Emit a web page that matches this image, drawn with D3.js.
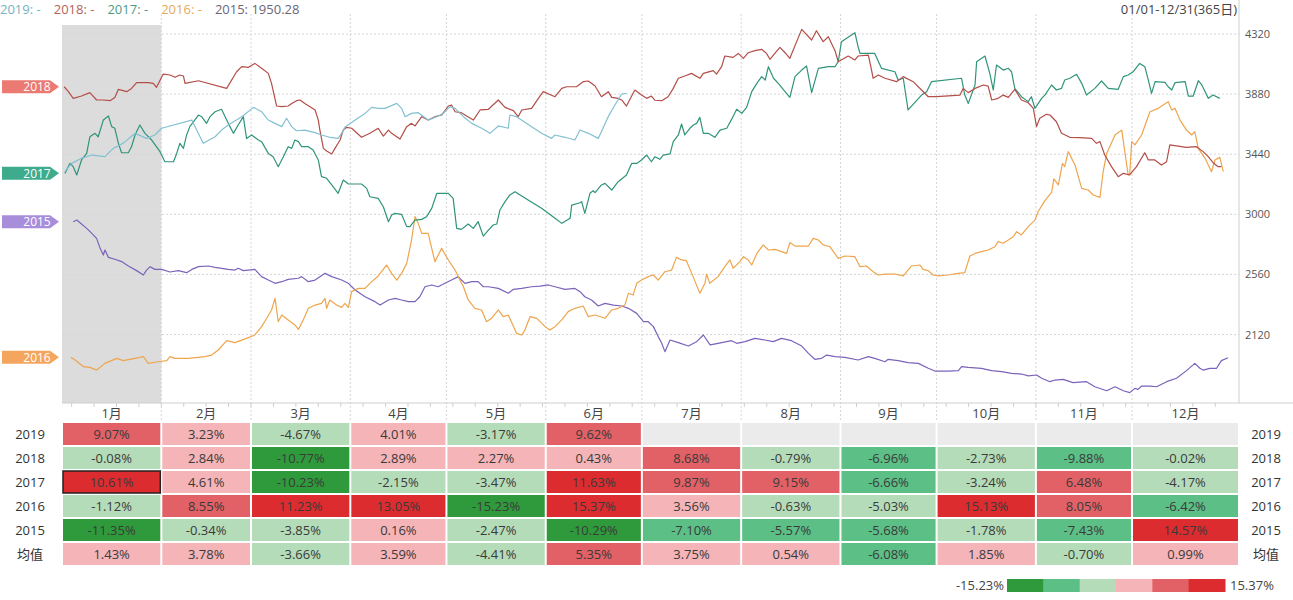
<!DOCTYPE html>
<html><head><meta charset="utf-8">
<script src="https://cdn.jsdelivr.net/npm/d3@7"></script>
<style>
body{margin:0;background:#fff;}
svg{display:block;font-family:"Open Sans","Noto Sans CJK SC",sans-serif;}
</style>
</head><body>
<svg id="chart" width="1293" height="600"></svg>
<script>
// ---------- DATA ----------
// series: [day of year, index value]
const s2019 = [[0.9,3312],[3,3373],[6.1,3410],[9.3,3434],[13.4,3422],[16,3483],[18.1,3508],[19.7,3532],[22.8,3593],[26.4,3556],[29,3581],[31.1,3630],[40.5,3690],[44.1,3520],[47.8,3568],[49.8,3617],[51.9,3654],[56.1,3715],[59.8,3783],[62.3,3751],[64.4,3690],[66.5,3666],[68.6,3642],[70.1,3703],[71.7,3642],[73.2,3612],[75.8,3617],[79,3598],[81,3581],[83.6,3564],[86.2,3556],[87.3,3593],[88.3,3637],[91.5,3690],[94.6,3739],[96.7,3783],[98.7,3776],[100.8,3776],[104.5,3812],[106,3776],[107.1,3715],[109.1,3739],[111.2,3744],[114.3,3690],[117,3715],[119,3739],[121.1,3788],[122.7,3776],[125.3,3715],[127.9,3666],[131,3630],[133.6,3593],[136.2,3647],[139.3,3630],[139.8,3727],[141.9,3715],[146.6,3642],[149.7,3593],[152.8,3556],[153.9,3581],[157,3564],[160.1,3544],[161.7,3617],[164.3,3593],[167.4,3556],[170.5,3715],[172.6,3800],[174.7,3881],[176.2,3886]];
const s2018 = [[0.7,3934],[2,3898],[3.5,3849],[6.1,3866],[8.7,3891],[10.8,3837],[12.9,3837],[15,3832],[16.5,3856],[17.6,3915],[20.2,3898],[21.7,3922],[23.3,3964],[26.9,3964],[28.5,3959],[29.5,3930],[31.6,4027],[33.7,4020],[35.3,4003],[36.8,4020],[37.9,4013],[38.4,3959],[42.6,3978],[51.4,3922],[54.5,4044],[56.1,4081],[58.2,4076],[60.2,4105],[62.3,4069],[64.4,4032],[65.4,3959],[67,3793],[68.6,3788],[70.6,3793],[71.7,3812],[73.2,3832],[74.3,3837],[75.8,3812],[77.4,3788],[79,3764],[80,3690],[80.5,3617],[81.6,3483],[82.6,3464],[84.2,3442],[85.2,3483],[86.8,3544],[87.8,3617],[88.8,3637],[90.4,3630],[93.5,3564],[96.1,3593],[98.7,3630],[100.3,3573],[101.9,3617],[102.9,3593],[105.5,3551],[107.6,3642],[109.1,3666],[110.2,3647],[112.3,3715],[114.3,3690],[116.4,3715],[118.5,3727],[120.6,3793],[121.6,3800],[122.7,3751],[124.5,3745],[128.4,3690],[130.5,3764],[133.1,3769],[136.2,3837],[138.3,3783],[140.9,3759],[142.4,3715],[143.5,3764],[146.6,3776],[148.7,3849],[150.2,3898],[153.9,3861],[156,3922],[157.5,3934],[160.6,3934],[162.7,3971],[164.3,3976],[166.4,3939],[168.4,3861],[170.5,3898],[171.6,3856],[173.6,3849],[174.7,3837],[176.2,3793],[178.8,3910],[180.9,3873],[182.5,3849],[184,3866],[185.1,3835],[187.2,3832],[189.2,3861],[190.8,3922],[192.4,3996],[194.4,4013],[196.5,4032],[199.1,3996],[200.2,4032],[203.3,4052],[204.3,4027],[205.9,4081],[206.9,4159],[209.5,4149],[211.1,4178],[212.7,4142],[214.2,4183],[216.3,4198],[218.4,4208],[219.9,4178],[221,4135],[222.5,4178],[224.1,4222],[225.7,4183],[227.2,4142],[230.9,4354],[234,4276],[235.5,4344],[237.6,4264],[239.2,4300],[241.3,4198],[242.3,4117],[245.4,4159],[247.5,4130],[248.5,4159],[251.7,4166],[252.7,4056],[253.2,3996],[254.8,4020],[256.9,3996],[260.5,3971],[262.6,4008],[265.7,3971],[268.3,3910],[270.4,3861],[273,3861],[280.3,3873],[281.3,3922],[282.9,3891],[285,3922],[287.6,3947],[289.1,3939],[290.2,3837],[292.2,3849],[293.8,3873],[295.4,3856],[297.4,3915],[299.5,3837],[301.6,3817],[303.2,3776],[304.2,3642],[305.2,3703],[307.3,3732],[308.4,3727],[310.4,3678],[312,3593],[314.6,3564],[317.7,3561],[321.4,3556],[322.9,3520],[324,3532],[325.5,3434],[327.6,3349],[329.7,3276],[331.3,3300],[333.3,3288],[335.4,3349],[338,3451],[339.1,3398],[341.1,3398],[343.2,3361],[344.8,3385],[345.8,3508],[351,3490],[354.1,3495],[356.2,3459],[357.8,3422],[359.3,3378],[360.9,3349],[361.9,3349]];
const s2017 = [[0.9,3300],[2.5,3373],[3.5,3349],[4.6,3288],[6.1,3398],[7.7,3446],[8.7,3568],[10.3,3593],[11.3,3568],[12.9,3690],[14.5,3720],[15.5,3642],[16.5,3630],[17.6,3520],[18.6,3451],[20.7,3451],[21.7,3495],[22.8,3581],[24.3,3654],[25.9,3593],[28,3544],[30.6,3459],[32.1,3385],[34.8,3385],[35.8,3446],[36.8,3520],[37.9,3483],[38.9,3581],[39.9,3642],[42.6,3727],[43.6,3715],[45.1,3666],[46.2,3715],[47.8,3751],[49.8,3769],[51.9,3666],[53.5,3593],[55,3654],[56.6,3715],[57.6,3556],[59.2,3581],[61.3,3544],[62.3,3532],[64.4,3446],[65.9,3422],[67.5,3349],[69.1,3422],[70.6,3495],[71.7,3483],[72.7,3544],[73.8,3532],[74.8,3495],[76.9,3495],[78.4,3471],[80,3398],[81,3276],[82.6,3264],[84.2,3215],[86.2,3154],[87.8,3251],[89.4,3222],[93.5,3222],[95.1,3190],[96.1,3129],[98.7,3117],[100.3,3056],[101.9,2946],[102.9,2995],[103.9,3007],[106,3000],[107.6,2910],[108.6,2910],[110.2,2958],[112.3,2963],[113.8,2983],[115.4,3044],[117,3154],[118.5,3154],[120.6,3154],[122.1,3117],[123.2,2897],[124.7,2890],[126.8,2929],[128.4,2897],[129.9,2946],[131.5,2841],[133.1,2885],[134.6,2922],[135.7,2929],[136.7,3032],[138.3,3093],[139.8,3142],[141.4,3166],[145.5,3105],[149.7,3044],[153.9,2971],[156,2934],[158.6,2971],[159.1,3068],[161.7,3085],[162.2,3093],[163.2,3007],[164.8,3154],[165.8,3173],[166.4,3159],[168.4,3215],[169.5,3227],[171.6,3178],[173.6,3239],[176.2,3288],[177.8,3373],[179.4,3373],[180.9,3398],[182.5,3434],[184,3385],[185.1,3422],[186.6,3403],[187.7,3434],[189.8,3442],[190.8,3532],[192.4,3581],[193.4,3661],[194.4,3581],[196,3630],[197.1,3654],[198.1,3666],[199.1,3710],[200.2,3593],[201.7,3593],[203.8,3564],[205.4,3617],[207.5,3630],[209,3695],[210.6,3769],[212.2,3739],[213.7,3783],[215.3,3898],[216.9,3959],[218.4,4008],[219.5,3983],[220.5,4081],[222.1,3996],[223.6,3959],[225.7,3898],[227.2,3856],[228.8,4008],[230.9,4056],[232.4,4086],[234,3891],[236.1,4069],[239.2,4081],[241.3,4081],[242.3,4117],[243.3,4264],[247.5,4330],[248.5,4227],[249.1,4178],[253.7,4178],[255.8,4069],[260,4044],[261,3983],[262.6,3996],[264.1,3764],[268.3,3873],[269.9,3898],[271.4,3971],[280.8,3996],[281.8,3873],[282.9,3812],[285,3947],[285.5,4117],[288.1,4159],[289.6,4032],[290.7,3910],[291.7,4093],[293.8,4056],[295.4,4069],[296.4,4044],[297.4,3922],[299.5,3861],[301.6,3825],[302.6,3861],[303.7,3776],[305.8,3849],[306.8,3873],[308.9,3947],[310.4,3910],[312,3922],[313,3983],[314.6,3996],[316.7,4025],[318.3,3959],[319.8,3873],[322.4,3922],[324.5,3976],[326.6,3922],[329.7,3915],[331.3,4008],[332.8,4020],[334.4,4044],[336.4,4105],[338,4081],[339.1,3983],[340.1,3886],[341.2,3971],[344.3,3966],[345.3,3934],[346.4,3910],[347.4,3964],[350.6,3971],[351.6,3866],[353.1,3866],[354.7,3978],[355.8,3947],[357.8,3849],[359.3,3873],[361.4,3849]];
const s2016 = [[2.8,1953],[4.1,1934],[6.7,1885],[8.7,1880],[10.8,1860],[13.4,1909],[17.1,1946],[19.1,1929],[22.8,1946],[25.4,1958],[26.9,1909],[30.1,1921],[32.7,1929],[33.7,1958],[35.3,1946],[39.4,1946],[44.6,1958],[46.7,1970],[48.8,2007],[51.4,2075],[54,2061],[57.6,2092],[60.2,2117],[62.3,2178],[63.9,2239],[65.4,2300],[66.5,2385],[67.5,2214],[68.6,2263],[70.6,2227],[72.7,2190],[73.8,2158],[75.3,2227],[76.9,2312],[79,2336],[81,2348],[82.1,2385],[82.6,2312],[83.6,2373],[85.7,2336],[87.3,2319],[88.3,2348],[89.4,2319],[90.4,2434],[92.5,2458],[94.6,2458],[96.1,2495],[98.7,2549],[101.3,2629],[102.9,2568],[104.5,2519],[106,2568],[107.6,2641],[109.1,2812],[110.2,2983],[111.2,2934],[112.3,2861],[114.3,2861],[116.4,2654],[118.5,2751],[120.6,2666],[122.7,2592],[124.2,2519],[125.3,2470],[126.8,2373],[128.9,2312],[131,2300],[132.5,2214],[134.1,2239],[136.2,2300],[137.7,2251],[139.3,2263],[141.9,2129],[143.5,2117],[144.5,2153],[146.1,2251],[148.2,2239],[150.8,2178],[152.3,2153],[153.9,2178],[156,2227],[158,2288],[160.1,2312],[162.7,2329],[164.3,2251],[166.4,2263],[169.5,2239],[171.6,2300],[173.6,2312],[175.7,2336],[176.8,2422],[178.3,2410],[179.4,2495],[180.9,2519],[183,2544],[184.6,2556],[186.1,2519],[188.2,2580],[190.3,2592],[191.8,2685],[193.4,2666],[194.9,2661],[197,2544],[199.1,2422],[200.7,2495],[201.2,2563],[202.2,2495],[204.8,2544],[206.9,2617],[208.5,2666],[209.5,2605],[211.6,2654],[212.7,2690],[214.2,2666],[215.3,2629],[216.9,2714],[218.9,2776],[220.5,2739],[222.6,2744],[224.6,2727],[226.2,2714],[227.2,2793],[228.8,2768],[233,2768],[234.5,2824],[236.1,2812],[237.6,2776],[239.7,2763],[242.3,2678],[244.4,2695],[247.5,2690],[249.1,2617],[251.1,2622],[253.2,2580],[254.8,2556],[256.9,2563],[260,2563],[262.6,2549],[264.1,2592],[265.2,2622],[267.8,2629],[268.8,2597],[270.4,2588],[271.9,2556],[273.5,2549],[276.6,2556],[279.8,2568],[281.8,2573],[283.4,2695],[285,2714],[287,2727],[289.1,2739],[291.2,2763],[292.2,2800],[293.8,2788],[295.4,2812],[296.9,2836],[298,2873],[299.5,2849],[301.6,2910],[303.7,2958],[304.7,3019],[306.8,3100],[308.9,3160],[309.6,3260],[311,3215],[312.3,3373],[313,3349],[314.1,3459],[316.2,3361],[318.3,3190],[320.3,3178],[321.9,3142],[324,3124],[325,3312],[326.1,3446],[328.7,3581],[330.8,3617],[332.8,3288],[333.3,3300],[333.9,3532],[334.9,3508],[337,3581],[339.6,3751],[342.2,3776],[345.3,3825],[346.4,3764],[347.4,3776],[349,3690],[351,3617],[352.6,3581],[353.6,3605],[354.7,3483],[356.8,3410],[358.8,3312],[359.9,3398],[361.4,3417],[362.5,3312]];
const s2015 = [[3.5,2946],[4.6,2958],[6.1,2929],[7.7,2897],[9.3,2861],[10.8,2824],[11.9,2751],[12.9,2702],[13.4,2739],[14.5,2685],[16.5,2671],[18.6,2654],[20.7,2622],[23.3,2588],[25.4,2556],[26.4,2592],[27.5,2617],[29,2597],[31.1,2597],[33.7,2578],[36.3,2588],[38.9,2573],[40.5,2597],[42.6,2617],[45.7,2622],[47.8,2612],[51.9,2597],[54,2592],[55,2605],[56.6,2588],[60.2,2597],[62.3,2544],[64.4,2519],[66.5,2495],[68.6,2507],[70.6,2524],[73.8,2532],[74.8,2544],[76.9,2507],[79,2519],[82.1,2568],[84.2,2544],[87.3,2519],[89.4,2495],[91.5,2446],[94.6,2397],[97.7,2361],[99.3,2336],[101.9,2373],[104,2385],[106,2373],[108.1,2361],[110.2,2361],[111.7,2397],[113.3,2470],[115.4,2483],[117.4,2470],[119.5,2495],[121.6,2519],[123.7,2544],[124.7,2519],[125.8,2495],[127.9,2507],[129.9,2507],[131.5,2470],[133.1,2470],[136.2,2458],[139.3,2422],[140.9,2451],[143.5,2458],[146.6,2470],[149.2,2475],[151.8,2483],[153.9,2470],[157,2451],[160.1,2458],[161.7,2434],[163.2,2397],[165.3,2373],[167.4,2329],[169.5,2348],[172.1,2336],[174.7,2329],[176.8,2312],[179.4,2275],[181.5,2214],[183,2214],[184.6,2178],[186.1,2105],[187.2,2056],[188.2,1995],[189.8,2080],[192.4,2061],[195.5,2036],[198.1,2068],[200.2,2117],[202.3,2044],[204.8,2056],[209,2075],[210.6,2056],[213.2,2068],[216.3,2092],[219.4,2080],[222,2068],[224.6,2092],[227.7,2075],[230.9,2036],[233,1982],[235,1939],[237.1,1946],[238.7,1970],[241.3,1958],[244.4,1953],[248.5,1934],[251.7,1958],[253.7,1946],[256.9,1921],[257.9,1939],[261,1929],[264.1,1914],[267.3,1909],[270.4,1873],[272.5,1853],[276.6,1853],[279.8,1856],[280.8,1885],[282.9,1880],[287,1873],[290.2,1856],[293.3,1848],[296.4,1836],[299.5,1831],[301.6,1817],[304.2,1824],[305.8,1800],[308.4,1775],[309.9,1787],[312.5,1792],[315.6,1768],[319.8,1775],[322.4,1738],[326.1,1709],[328.7,1738],[331.3,1709],[333.3,1695],[334.9,1726],[335.9,1719],[337,1743],[339.6,1743],[341.7,1738],[344.8,1775],[347.9,1800],[351,1856],[353.6,1909],[355.2,1873],[356.2,1860],[358.3,1873],[360.4,1873],[361.9,1929],[364,1950.28]];

const seriesYears  = ["2015","2016","2017","2018","2019"];
const seriesData   = [s2015, s2016, s2017, s2018, s2019];
const seriesColors = ["#7b63bb","#eea54e","#2f947a","#b34e48","#82c1d2"];
const tagYears  = ["2018","2017","2015","2016"];
const tagColors = ["#ea7a72","#3dab8c","#a88ddb","#f5a65e"];

const legendYears  = ["2019","2018","2017","2016","2015"];
const legendValues = ["-","-","-","-","1950.28"];
const legendColors = ["#74b3c4","#b3625b","#4b9a84","#e1ab5d","#6c6579"];
const rangeLabel = "01/01-12/31(365日)";

const yTicks = [2120,2560,3000,3440,3880,4320];
const monthLabels = ["1月","2月","3月","4月","5月","6月","7月","8月","9月","10月","11月","12月"];
const monthStartDays = [0,31,59,90,120,151,181,212,243,273,304,334];

const rowLabels = ["2019","2018","2017","2016","2015","均值"];
const r2019 = [9.07,3.23,-4.67,4.01,-3.17,9.62,null,null,null,null,null,null];
const r2018 = [-0.08,2.84,-10.77,2.89,2.27,0.43,8.68,-0.79,-6.96,-2.73,-9.88,-0.02];
const r2017 = [10.61,4.61,-10.23,-2.15,-3.47,11.63,9.87,9.15,-6.66,-3.24,6.48,-4.17];
const r2016 = [-1.12,8.55,11.23,13.05,-15.23,15.37,3.56,-0.63,-5.03,15.13,8.05,-6.42];
const r2015 = [-11.35,-0.34,-3.85,0.16,-2.47,-10.29,-7.10,-5.57,-5.68,-1.78,-7.43,14.57];
const rAvg  = [1.43,3.78,-3.66,3.59,-4.41,5.35,3.75,0.54,-6.08,1.85,-0.70,0.99];
const tableRows = [r2019, r2018, r2017, r2016, r2015, rAvg];
const heatColors = ["#2f9a3b","#5cbf86","#b5dcb9","#f4b4b8","#e26166","#dc2c2f"];
const highlightRow = 2, highlightCol = 0;

// ---------- LAYOUT ----------
const svg = d3.select("#chart");
const pLeft = 62, pRight = 1239, pTop = 25, pBottom = 403;
const x = d3.scaleLinear().domain([0, 367.4]).range([pLeft, pRight]);
const y = d3.scaleLinear().domain([1619, 4386]).range([pBottom, pTop]);
const font = '"Open Sans","Noto Sans CJK SC",sans-serif';

// January shading
svg.append("rect").attr("x", x(monthStartDays[0])).attr("y", pTop)
  .attr("width", x(monthStartDays[1]) - x(monthStartDays[0])).attr("height", pBottom - pTop)
  .attr("fill", "#dcdcdc");

// horizontal grid
svg.append("g").selectAll("line").data(yTicks).join("line")
  .attr("x1", pLeft).attr("x2", pRight).attr("y1", d => y(d)).attr("y2", d => y(d))
  .attr("stroke", "#d6d6d6").attr("stroke-dasharray", "2,2");
// vertical grid (month boundaries), running through header row
svg.append("g").selectAll("line").data(monthStartDays.slice(1)).join("line")
  .attr("x1", d => x(d)).attr("x2", d => x(d)).attr("y1", 14).attr("y2", 422)
  .attr("stroke", "#d6d6d6").attr("stroke-dasharray", "2,2");

// right axis
const yAxis = d3.axisRight(y).tickValues(yTicks).tickFormat(d3.format("d")).tickSize(0).tickPadding(6);
const ya = svg.append("g").attr("transform", `translate(${pRight},0)`).call(yAxis);
ya.select(".domain").remove();
ya.selectAll("text").attr("font-size", 11).attr("fill", "#555").attr("font-family", font);
svg.append("line").attr("x1", pRight).attr("x2", pRight).attr("y1", 0).attr("y2", pBottom)
  .attr("stroke", "#cfcfcf");

// bottom axis line with weekly ticks
svg.append("line").attr("x1", pLeft).attr("x2", 1293).attr("y1", pBottom).attr("y2", pBottom)
  .attr("stroke", "#cfcfcf");
svg.append("g").selectAll("line").data(d3.range(3, 365, 7)).join("line")
  .attr("x1", d => x(d)).attr("x2", d => x(d)).attr("y1", pBottom).attr("y2", pBottom + 4)
  .attr("stroke", "#cfcfcf");

// lines
const line = d3.line().x(d => x(d[0])).y(d => y(d[1]));
svg.append("g").selectAll("path").data(seriesData).join("path")
  .attr("d", line).attr("fill", "none")
  .attr("stroke", (d, i) => seriesColors[i]).attr("stroke-width", 1.2)
  .attr("stroke-linejoin", "round");

// left tags at first value
const tagG = svg.append("g");
tagYears.forEach((yr, i) => {
  const data = seriesData[seriesYears.indexOf(yr)];
  const yc = y(data[0][1]);
  tagG.append("path")
    .attr("d", `M2,${yc-6.5} H50 L59,${yc} L50,${yc+6.5} H2 Z`)
    .attr("fill", tagColors[i]);
  tagG.append("text").attr("x", 37).attr("y", yc).attr("dy", "0.35em")
    .attr("text-anchor", "middle").attr("font-size", 12).attr("fill", "#fff")
    .attr("font-family", font).text(yr);
});

// top legend
let lx = 0;
legendYears.forEach((yr, i) => {
  const t = svg.append("text").attr("x", lx).attr("y", 9).attr("dy", "0.35em")
    .attr("font-size", 13).attr("fill", legendColors[i]).attr("font-family", font)
    .text(`${yr}: ${legendValues[i]}`);
  lx += t.node().getComputedTextLength() + 13;
});
svg.append("text").attr("x", 1237).attr("y", 9).attr("dy", "0.35em")
  .attr("text-anchor", "end").attr("font-size", 13).attr("fill", "#444")
  .attr("font-family", font).text(rangeLabel);

// ---------- TABLE ----------
const colStart = m => x(monthStartDays[m]);
const colEnd = m => m < 11 ? x(monthStartDays[m + 1]) : x.range()[1];
const yearVals = tableRows.slice(0, 5).flat().filter(v => v != null);
const vMin = d3.min(yearVals), vMax = d3.max(yearVals);
const stepW = (vMax - vMin) / heatColors.length;
const heat = v => heatColors[Math.max(0, Math.min(heatColors.length - 1, Math.floor((v - vMin) / stepW + 1e-6)))];

// header month labels
svg.append("g").selectAll("text").data(monthLabels).join("text")
  .attr("x", (d, i) => (colStart(i) + colEnd(i)) / 2).attr("y", 413).attr("dy", "0.35em")
  .attr("text-anchor", "middle").attr("font-size", 13).attr("fill", "#444")
  .attr("font-family", font).text(d => d);

const rowTop = 422, rowH = 24;
tableRows.forEach((row, r) => {
  const ry = rowTop + r * rowH;
  const g = svg.append("g");
  row.forEach((v, m) => {
    const cx0 = colStart(m) + 1, cx1 = colEnd(m) - 1;
    g.append("rect").attr("x", cx0).attr("y", ry + 1).attr("width", cx1 - cx0).attr("height", rowH - 2)
      .attr("fill", v == null ? "#ebebeb" : heat(v))
      .attr("stroke", (r === highlightRow && m === highlightCol) ? "#222" : "none")
      .attr("stroke-width", 1.5);
    if (v != null) {
      g.append("text").attr("x", (cx0 + cx1) / 2).attr("y", ry + rowH / 2).attr("dy", "0.35em")
        .attr("text-anchor", "middle").attr("font-size", 13).attr("fill", "#3a3a3a")
        .attr("font-family", font).text(v.toFixed(2) + "%");
    }
  });
  [30, 1266].forEach(tx => {
    g.append("text").attr("x", tx).attr("y", ry + rowH / 2).attr("dy", "0.35em")
      .attr("text-anchor", "middle").attr("font-size", 13).attr("fill", "#333")
      .attr("font-family", font).text(rowLabels[r]);
  });
});

// ---------- COLOR LEGEND ----------
const legX0 = 1007, legX1 = 1225, legY = 579, legH = 13;
const lw = (legX1 - legX0) / heatColors.length;
svg.append("g").selectAll("rect").data(heatColors).join("rect")
  .attr("x", (d, i) => legX0 + i * lw).attr("y", legY).attr("width", lw + 0.5).attr("height", legH)
  .attr("fill", d => d);
svg.append("text").attr("x", legX0 - 3).attr("y", legY + legH / 2).attr("dy", "0.35em")
  .attr("text-anchor", "end").attr("font-size", 13).attr("fill", "#444").attr("font-family", font)
  .text(vMin.toFixed(2) + "%");
svg.append("text").attr("x", legX1 + 5).attr("y", legY + legH / 2).attr("dy", "0.35em")
  .attr("text-anchor", "start").attr("font-size", 13).attr("fill", "#444").attr("font-family", font)
  .text(vMax.toFixed(2) + "%");
</script>
</body></html>
